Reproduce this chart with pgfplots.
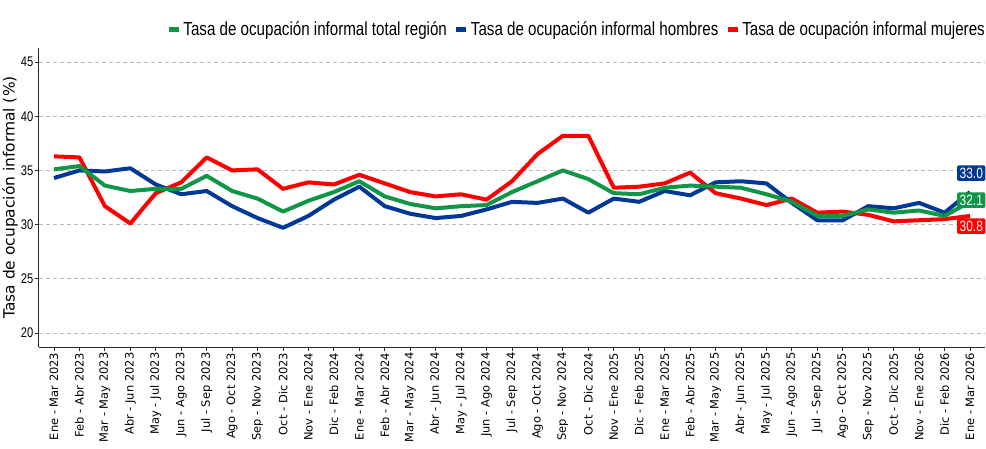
\documentclass[border=0pt]{standalone}
\usepackage{fontspec}
\setmainfont{DejaVu Sans}
\newfontfamily\narrowfont[FakeStretch=0.8]{Liberation Sans}
\usepackage{pgfplots}
\pgfplotsset{compat=1.18}
\usepackage{pgfplotstable}
\definecolor{cgreen}{RGB}{17,150,72}
\definecolor{cblue}{RGB}{0,56,150}
\definecolor{cred}{RGB}{255,0,0}

\pgfplotstableread{
i total hombres mujeres
0 35.1 34.3 36.3
1 35.4 35.0 36.2
2 33.6 34.9 31.7
3 33.1 35.2 30.1
4 33.3 33.7 32.9
5 33.3 32.8 33.9
6 34.5 33.1 36.2
7 33.1 31.7 35.0
8 32.4 30.6 35.1
9 31.2 29.7 33.3
10 32.2 30.8 33.9
11 33.0 32.3 33.7
12 34.0 33.5 34.6
13 32.6 31.7 33.8
14 31.9 31.0 33.0
15 31.5 30.6 32.6
16 31.7 30.8 32.8
17 31.8 31.4 32.3
18 33.0 32.1 34.0
19 34.0 32.0 36.5
20 35.0 32.4 38.2
21 34.2 31.1 38.2
22 32.9 32.4 33.4
23 32.8 32.1 33.5
24 33.4 33.1 33.8
25 33.6 32.7 34.8
26 33.5 33.9 32.9
27 33.4 34.0 32.4
28 32.8 33.8 31.8
29 32.1 32.0 32.4
30 30.8 30.4 31.1
31 30.8 30.4 31.2
32 31.4 31.7 30.9
33 31.1 31.5 30.3
34 31.3 32.0 30.4
35 30.8 31.1 30.5
36 32.1 33.0 30.8
}\datos

\begin{document}
\begin{tikzpicture}
\useasboundingbox (-39bp,-102bp) rectangle (947bp,347bp);
\begin{axis}[
  scale only axis, width=946bp, height=299bp,
  xmin=-0.59, xmax=36.59, ymin=18.7, ymax=46.3,
  axis x line=bottom, axis y line=left,
  axis line style={-, black!85, line width=1bp},
  clip=false,
  xtick={0,...,36},
  xticklabels={Ene - Mar 2023,Feb - Abr 2023,Mar - May 2023,Abr - Jun 2023,May - Jul 2023,Jun - Ago 2023,Jul - Sep 2023,Ago - Oct 2023,Sep - Nov 2023,Oct - Dic 2023,Nov - Ene 2024,Dic - Feb 2024,Ene - Mar 2024,Feb - Abr 2024,Mar - May 2024,Abr - Jun 2024,May - Jul 2024,Jun - Ago 2024,Jul - Sep 2024,Ago - Oct 2024,Sep - Nov 2024,Oct - Dic 2024,Nov - Ene 2025,Dic - Feb 2025,Ene - Mar 2025,Feb - Abr 2025,Mar - May 2025,Abr - Jun 2025,May - Jul 2025,Jun - Ago 2025,Jul - Sep 2025,Ago - Oct 2025,Sep - Nov 2025,Oct - Dic 2025,Nov - Ene 2026,Dic - Feb 2026,Ene - Mar 2026},
  xticklabel style={rotate=90, anchor=east, font=\fontsize{11.5}{12}\selectfont, inner sep=1.5bp},
  ytick={20,25,...,45},
  /pgf/number format/assume math mode=true,
  yticklabel style={font=\narrowfont\fontsize{14}{14}\selectfont, inner sep=1.5bp},
  tick align=outside, major tick length=4bp,
  tick style={black!85, line width=0.8bp},
  ymajorgrids, major grid style={gray!55, dashed, line width=0.8bp, dash pattern=on 4bp off 3bp},
  ylabel={Tasa de ocupación informal (\%)},
  ylabel style={font=\fontsize{15.5}{16}\selectfont, yshift=-2bp},
  legend columns=-1,
  legend style={draw=none, fill=none, at={(1,1)}, anchor=south east, yshift=9bp, xshift=2bp,
    font=\narrowfont\fontsize{19}{19}\selectfont, inner sep=0pt,
    /tikz/every even column/.append style={column sep=5bp}},
  legend image code/.code={\draw[#1, line width=5bp] (0bp,0bp) -- (10bp,0bp);},
]
\addlegendimage{cgreen}
\addlegendentry{Tasa de ocupación informal total región}
\addlegendimage{cblue}
\addlegendentry{Tasa de ocupación informal hombres}
\addlegendimage{cred}
\addlegendentry{Tasa de ocupación informal mujeres}

\addplot[cred, line width=4bp, line join=round, forget plot] table[x=i, y=mujeres] {\datos};
\addplot[cblue, line width=4bp, line join=round, forget plot] table[x=i, y=hombres] {\datos};
\addplot[cgreen, line width=4bp, line join=round, forget plot] table[x=i, y=total] {\datos};

\node[fill=cblue, text=white, rounded corners=1.5bp, inner xsep=2.5bp, inner ysep=2.5bp, font=\narrowfont\fontsize{15}{15}\selectfont] at (axis cs:36.05,34.75) {33.0};
\node[fill=cgreen, text=white, rounded corners=1.5bp, inner xsep=2.5bp, inner ysep=2.5bp, font=\narrowfont\fontsize{15}{15}\selectfont] at (axis cs:36.05,32.26) {32.1};
\node[fill=cred, text=white, rounded corners=1.5bp, inner xsep=2.5bp, inner ysep=2.5bp, font=\narrowfont\fontsize{15}{15}\selectfont] at (axis cs:36.05,29.86) {30.8};
\end{axis}
\end{tikzpicture}
\end{document}
